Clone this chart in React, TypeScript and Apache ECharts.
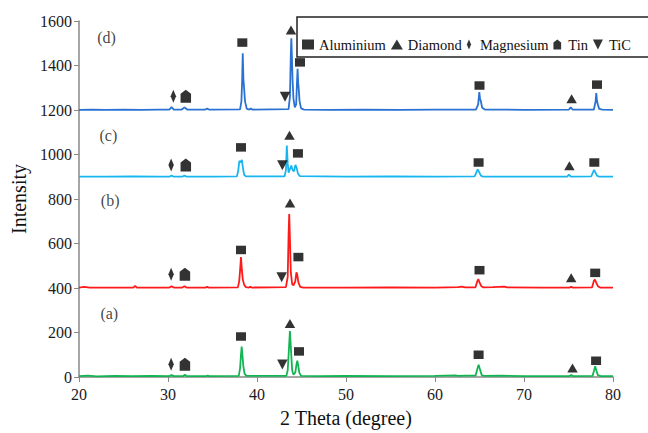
import React, { useEffect, useRef } from "react";
import * as echarts from "echarts";

const FONT = "'Liberation Serif', 'Times New Roman', serif";

// XRD patterns (2θ, intensity), offset stacked
const patternA: [number, number][] = [
  [20, 4], [21, 6], [22, 3], [24, 5], [26, 4], [28, 5], [30.15, 4], [30.4, 9], [30.65, 4], [31.7, 4], [31.9, 11], [32.1, 4],
  [34.3, 4], [34.45, 7], [34.6, 4], [37.95, 5], [38.1, 40], [38.2, 100], [38.28, 137], [38.36, 100], [38.46, 50], [38.6, 15], [38.8, 5],
  [43.3, 5], [43.45, 30], [43.58, 120], [43.7, 207], [43.82, 120], [43.95, 30], [44.1, 10], [44.3, 20], [44.45, 60], [44.53, 73],
  [44.62, 55], [44.75, 20], [44.95, 5], [47, 4], [50, 5], [55, 4], [60, 5], [62.3, 7], [62.6, 5], [63.5, 6], [64.55, 6], [64.75, 35],
  [64.9, 55], [65.05, 35], [65.25, 8], [65.5, 5], [67.5, 6], [70, 4], [75.1, 4], [75.3, 9], [75.5, 4], [77.7, 5], [77.88, 30],
  [78.0, 48], [78.12, 30], [78.3, 8], [78.6, 4], [80, 4],
];
const patternB: [number, number][] = [
  [20, 402], [20.6, 405], [21.2, 402], [24, 402], [26.1, 402], [26.3, 410], [26.5, 402], [28, 402], [30.15, 402], [30.4, 408],
  [30.65, 402], [31.6, 402], [31.85, 408], [32.1, 402], [34.2, 402], [34.4, 405], [34.6, 402], [37.85, 403], [38.0, 430], [38.1, 480],
  [38.2, 539], [38.3, 480], [38.4, 440], [38.55, 415], [38.75, 404], [39.1, 402], [39.25, 406], [39.4, 402], [43.25, 404], [43.45, 450],
  [43.55, 640], [43.62, 733], [43.7, 620], [43.8, 470], [43.95, 418], [44.1, 412], [44.3, 430], [44.43, 470], [44.52, 460], [44.65, 425],
  [44.85, 405], [45.2, 402], [50, 402], [55, 403], [60, 402], [62.6, 404], [63.0, 406], [63.4, 403], [64.55, 403], [64.75, 430],
  [64.87, 440], [65.0, 425], [65.2, 408], [65.45, 403], [66.5, 404], [67.8, 406], [68.1, 403], [72, 402], [75.1, 402], [75.3, 405],
  [75.5, 402], [77.65, 403], [77.85, 432], [77.97, 438], [78.1, 425], [78.3, 408], [78.55, 402], [80, 402],
];
const patternC: [number, number][] = [
  [20, 901], [23, 901], [26, 902], [29, 901], [30.2, 901], [30.4, 905], [30.6, 901], [31.65, 901], [31.85, 905], [32.05, 901],
  [35, 901], [37.75, 902], [37.9, 930], [38.02, 972], [38.12, 965], [38.2, 968], [38.3, 976], [38.42, 940], [38.55, 910], [38.75, 902],
  [43.1, 902], [43.25, 930], [43.35, 1040], [43.45, 960], [43.55, 918], [43.7, 935], [43.85, 950], [44.0, 930], [44.15, 925],
  [44.32, 953], [44.45, 940], [44.6, 915], [44.8, 903], [50, 901], [55, 902], [60, 901], [64.45, 902], [64.65, 920], [64.8, 933],
  [64.95, 922], [65.15, 905], [65.35, 901], [70, 901], [74.85, 901], [75.05, 910], [75.25, 901], [77.55, 902], [77.75, 920],
  [77.88, 931], [78.02, 920], [78.2, 905], [78.4, 901], [80, 901],
];
const patternD: [number, number][] = [
  [20, 1201], [21.5, 1202], [23, 1201], [25, 1202], [27, 1201], [29, 1202], [30.15, 1202], [30.4, 1213], [30.65, 1202], [31.55, 1202],
  [31.85, 1212], [32.15, 1202], [34.2, 1202], [34.4, 1206], [34.6, 1202], [38.1, 1203], [38.25, 1240], [38.33, 1330], [38.4, 1455],
  [38.47, 1340], [38.55, 1300], [38.65, 1240], [38.85, 1205], [39.15, 1202], [39.3, 1207], [39.45, 1202], [43.55, 1204], [43.7, 1260],
  [43.8, 1450], [43.86, 1522], [43.93, 1430], [44.0, 1330], [44.1, 1250], [44.25, 1212], [44.4, 1225], [44.5, 1330], [44.56, 1385],
  [44.63, 1320], [44.68, 1300], [44.78, 1240], [44.95, 1207], [45.3, 1202], [48, 1201], [52, 1202], [56, 1201], [60, 1202],
  [64.6, 1202], [64.85, 1225], [64.98, 1280], [65.06, 1250], [65.15, 1240], [65.3, 1210], [65.6, 1202], [70, 1201], [75.05, 1202],
  [75.25, 1212], [75.45, 1202], [77.85, 1202], [78.05, 1240], [78.12, 1276], [78.2, 1240], [78.3, 1225], [78.45, 1205], [78.8, 1202],
  [80, 1201],
];

// Phase marker positions
const aluminium: [number, number][] = [
  [38.35, 1503], [44.83, 1414], [65.0, 1310], [78.2, 1314],
  [38.2, 1032], [44.6, 1005], [64.9, 964], [77.9, 964],
  [38.2, 571], [44.65, 539], [65.0, 480], [78.0, 468],
  [38.2, 182], [44.72, 115], [64.9, 100], [78.1, 73],
];
const diamond: [number, number][] = [
  [43.82, 1560], [75.35, 1251], [43.65, 1087], [75.1, 949], [43.71, 782], [75.3, 446], [43.7, 241], [75.45, 40],
];
const magnesium: [number, number][] = [[30.6, 1262], [30.35, 953], [30.35, 462], [30.35, 57]];
const tin: [number, number][] = [[32.0, 1262], [32.0, 953], [31.9, 462], [31.9, 57]];
const tic: [number, number][] = [[43.15, 1259], [42.85, 952], [42.77, 448], [42.85, 56]];

const sampleLabels = ["(a)", "(b)", "(c)", "(d)"];
const sampleLabelPos: [number, number][] = [[23.4, 286], [23.5, 792], [23.3, 1087], [23.1, 1525]];

const lineColors = ["#12b552", "#ff1a1a", "#18b6f0", "#2a72d2"];
const patterns = [patternA, patternB, patternC, patternD];

const xTicks = { min: 20, max: 80, interval: 10 };
const yTicks = { min: 0, max: 1600, interval: 200 };

const TIN_PATH = "path://M5 0L10 4V13H0V4Z";
const MG_PATH = "path://M3 0L6 7L3 14L0 7Z";
const TIC_PATH = "path://M0 0H10L5 10Z";

export default function App() {
  const ref = useRef<HTMLDivElement>(null);
  useEffect(() => {
    document.body.style.margin = "0";
    const chart = echarts.init(ref.current!, null, { renderer: "svg" });
    const lineSeries = patterns.map((p, i) => ({
      type: "line",
      name: "pattern" + sampleLabels[i],
      data: p,
      symbol: "none",
      showSymbol: false,
      lineStyle: { color: lineColors[i], width: 1.8 },
      z: 2,
    }));
    const markerSeries = [
      { name: "Aluminium", data: aluminium, symbol: "rect", symbolSize: [10, 8.5] },
      { name: "Diamond", data: diamond, symbol: "triangle", symbolSize: [10.5, 9] },
      { name: "Magnesium", data: magnesium, symbol: MG_PATH, symbolSize: [5.5, 13] },
      { name: "Tin", data: tin, symbol: TIN_PATH, symbolSize: [10.5, 13] },
      { name: "TiC", data: tic, symbol: TIC_PATH, symbolSize: [10.5, 10] },
    ].map((s) => ({
      type: "scatter",
      name: s.name,
      data: s.data,
      symbol: s.symbol,
      symbolSize: s.symbolSize,
      symbolKeepAspect: false,
      itemStyle: { color: "#000" },
      z: 5,
    }));
    const labelSeries = {
      type: "scatter",
      name: "labels",
      data: sampleLabels.map((n, i) => ({ name: n, value: sampleLabelPos[i] })),
      symbolSize: 1,
      itemStyle: { color: "rgba(0,0,0,0)" },
      label: {
        show: true,
        position: "inside",
        formatter: (p: any) => p.name,
        fontFamily: FONT,
        fontSize: 16,
        color: "#111",
      },
      z: 6,
    };
    chart.setOption({
      animation: false,
      backgroundColor: "#fff",
      grid: { left: 79, right: 35, top: 21, bottom: 54 },
      legend: {
        data: ["Aluminium", "Diamond", "Magnesium", "Tin", "TiC"],
        left: 297,
        top: 17,
        orient: "horizontal",
        itemWidth: 12,
        itemHeight: 10,
        itemGap: 5,
        padding: [20, 18, 5, 5],
        borderColor: "#222",
        borderWidth: 1.5,
        backgroundColor: "#fff",
        selectedMode: false,
        textStyle: { fontFamily: FONT, fontSize: 14.5, color: "#111" },
      },
      xAxis: {
        type: "value",
        ...xTicks,
        name: "2 Theta (degree)",
        nameLocation: "middle",
        nameGap: 31,
        nameTextStyle: { fontFamily: FONT, fontSize: 20, color: "#111" },
        axisLine: { show: true, lineStyle: { color: "#888", width: 1.5 } },
        axisTick: { show: true, length: 5, lineStyle: { color: "#888" } },
        axisLabel: { fontFamily: FONT, fontSize: 16, color: "#1a1a1a", margin: 9 },
        splitLine: { show: false },
      },
      yAxis: {
        type: "value",
        ...yTicks,
        name: "Intensity",
        nameLocation: "middle",
        nameGap: 49,
        nameTextStyle: { fontFamily: FONT, fontSize: 20, color: "#111" },
        axisLine: { show: true, lineStyle: { color: "#888", width: 1.5 } },
        axisTick: { show: true, length: 5, lineStyle: { color: "#888" } },
        axisLabel: {
          fontFamily: FONT,
          fontSize: 16,
          color: "#1a1a1a",
          margin: 7,
          formatter: (v: number) => String(v),
        },
        splitLine: { show: false },
      },
      series: [...lineSeries, ...markerSeries, labelSeries],
    });
    return () => chart.dispose();
  }, []);
  return <div ref={ref} style={{ width: 648, height: 433 }} />;
}
